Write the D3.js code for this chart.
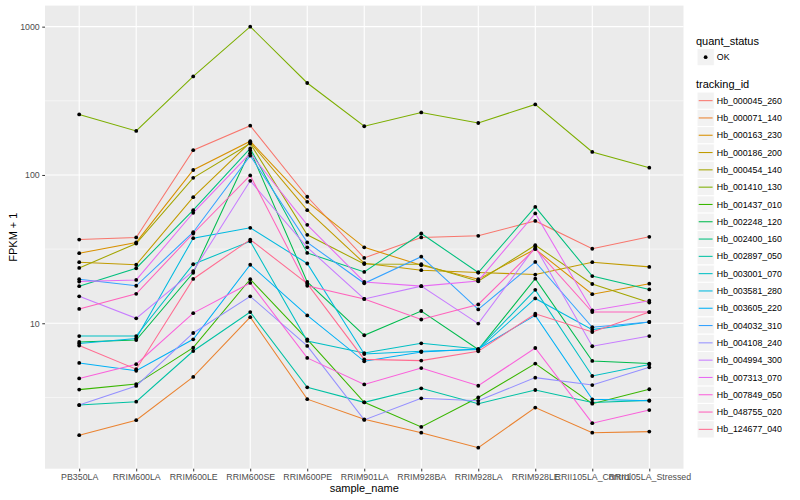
<!DOCTYPE html>
<html>
<head>
<meta charset="utf-8">
<script src="https://cdn.jsdelivr.net/npm/d3@7"></script>
<style>
  html, body { margin: 0; padding: 0; background: #fff; }
  svg { display: block; font-family: "Liberation Sans", Arial, Helvetica, sans-serif; }
</style>
</head>
<body>
<svg id="chart" width="800" height="500"></svg>
<script>
// ---------- data ----------
const samples = ["PB350LA", "RRIM600LA", "RRIM600LE", "RRIM600SE", "RRIM600PE", "RRIM901LA",
  "RRIM928BA", "RRIM928LA", "RRIM928LE", "RRII105LA_Control", "RRII105LA_Stressed"];

const trackingIds = ["Hb_000045_260", "Hb_000071_140", "Hb_000163_230", "Hb_000186_200", "Hb_000454_140",
  "Hb_001410_130", "Hb_001437_010", "Hb_002248_120", "Hb_002400_160", "Hb_002897_050",
  "Hb_003001_070", "Hb_003581_280", "Hb_003605_220", "Hb_004032_310", "Hb_004108_240",
  "Hb_004994_300", "Hb_007313_070", "Hb_007849_050", "Hb_048755_020", "Hb_124677_040"];

const seriesColors = ["#F8766D", "#EA8331", "#D89000", "#C09B00", "#A3A500", "#7CAE00", "#39B600", "#00BB4E",
  "#00BF7D", "#00C1A3", "#00BFC4", "#00BAE0", "#00B0F6", "#35A2FF", "#9590FF", "#C77CFF", "#E76BF3",
  "#FA62DB", "#FF62BC", "#FF6C91"];

// FPKM + 1 per sample (order of `samples`)
const hb_000045_260 = [36.7, 37.9, 147, 215, 71.3, 27.6, 37.9, 38.9, 49.0, 31.8, 38.3];
const hb_000071_140 = [1.76, 2.22, 4.35, 11.0, 3.08, 2.25, 1.83, 1.45, 2.7, 1.83, 1.86];
const hb_000163_230 = [29.7, 35.1, 108, 169, 65.9, 32.5, 24.6, 19.8, 31.6, 15.7, 18.5];
const hb_000186_200 = [25.8, 24.8, 70.8, 166, 57.9, 25.4, 22.8, 22.0, 21.3, 25.8, 24.0];
const hb_000454_140 = [23.6, 34.5, 95.7, 163, 39.5, 25.1, 25.0, 19.2, 33.6, 18.4, 13.8];
const hb_001410_130 = [256, 198, 462, 1000, 417, 213, 264, 224, 299, 143, 112];
const hb_001437_010 = [3.57, 3.89, 6.85, 19.8, 7.8, 2.93, 2.0, 3.16, 5.35, 2.87, 3.59];
const hb_002248_120 = [7.48, 7.7, 21.9, 146, 19.0, 8.3, 12.1, 6.65, 20.0, 5.57, 5.35];
const hb_002400_160 = [17.8, 23.5, 57.9, 151, 29.8, 22.2, 40.3, 22.0, 60.9, 20.8, 16.9];
const hb_002897_050 = [2.81, 2.96, 6.5, 11.9, 3.7, 2.93, 3.64, 2.87, 3.55, 2.92, 3.02];
const hb_003001_070 = [8.2, 8.2, 25.0, 35.7, 7.6, 6.3, 7.33, 6.7, 16.8, 4.41, 5.28];
const hb_003581_280 = [7.3, 7.9, 37.5, 44, 25.3, 6.2, 6.47, 6.65, 14.7, 9.06, 10.2];
const hb_003605_220 = [5.4, 4.78, 7.8, 24.8, 11.3, 5.54, 6.4, 6.7, 11.3, 3.07, 3.0];
const hb_004032_310 = [19.8, 17.9, 41.1, 135, 35.1, 18.6, 28.1, 12.4, 25.9, 9.4, 10.2];
const hb_004108_240 = [2.81, 3.78, 8.6, 15.2, 7.03, 2.23, 3.12, 3.0, 4.3, 3.83, 5.05];
const hb_004994_300 = [15.2, 10.8, 22.5, 91.3, 32.5, 14.6, 17.8, 9.95, 32.8, 7.0, 8.2];
const hb_007313_070 = [19.1, 19.6, 55.6, 140, 46.1, 19.0, 17.8, 19.3, 55.0, 12.2, 14.2];
const hb_007849_050 = [4.25, 5.3, 11.7, 18.7, 5.84, 3.87, 4.99, 3.79, 6.81, 2.12, 2.6];
const hb_048755_020 = [12.5, 15.8, 40.3, 99.3, 17.9, 14.6, 10.6, 13.4, 31.9, 11.9, 11.9];
const hb_124677_040 = [7.07, 4.9, 19.9, 36.7, 18.5, 5.71, 5.6, 6.47, 11.6, 8.73, 11.9];

const yTicks = [10, 100, 1000];
const yMinorTicks = [Math.sqrt(10), Math.sqrt(1000), Math.sqrt(100000)];

// build table
const seriesValues = [hb_000045_260, hb_000071_140, hb_000163_230, hb_000186_200, hb_000454_140,
  hb_001410_130, hb_001437_010, hb_002248_120, hb_002400_160, hb_002897_050,
  hb_003001_070, hb_003581_280, hb_003605_220, hb_004032_310, hb_004108_240,
  hb_004994_300, hb_007313_070, hb_007849_050, hb_048755_020, hb_124677_040];
const series = trackingIds.map((id, i) => ({
  id, color: seriesColors[i],
  values: samples.map((s, j) => ({ sample: s, value: seriesValues[i][j] }))
}));
const allPoints = series.flatMap(s => s.values);

// ---------- layout ----------
const svg = d3.select("#chart");
const panel = { left: 45, right: 683.5, top: 5.6, bottom: 468.7 };

const x = d3.scalePoint().domain(samples)
  .range([panel.left, panel.right]).padding(0.6);

const ext = d3.extent(allPoints, d => Math.log10(d.value));
const pad = (ext[1] - ext[0]) * 0.05;
const y = d3.scaleLog().domain([Math.pow(10, ext[0] - pad), Math.pow(10, ext[1] + pad)])
  .range([panel.bottom, panel.top]);

// panel background
svg.append("rect").attr("x", panel.left).attr("y", panel.top)
  .attr("width", panel.right - panel.left).attr("height", panel.bottom - panel.top)
  .attr("fill", "#EBEBEB");

const grid = svg.append("g");
grid.selectAll(".ymin").data(yMinorTicks.filter(v => y(v) > panel.top && y(v) < panel.bottom))
  .join("line").attr("x1", panel.left).attr("x2", panel.right)
  .attr("y1", d => y(d)).attr("y2", d => y(d))
  .attr("stroke", "#fff").attr("stroke-width", 0.55);
grid.selectAll(".ymaj").data(yTicks).join("line")
  .attr("x1", panel.left).attr("x2", panel.right)
  .attr("y1", d => y(d)).attr("y2", d => y(d))
  .attr("stroke", "#fff").attr("stroke-width", 1.1);
grid.selectAll(".xmaj").data(samples).join("line")
  .attr("x1", d => x(d)).attr("x2", d => x(d))
  .attr("y1", panel.top).attr("y2", panel.bottom)
  .attr("stroke", "#fff").attr("stroke-width", 1.1);

// lines
const line = d3.line().x(d => x(d.sample)).y(d => y(d.value));
svg.append("g").selectAll("path").data(series).join("path")
  .attr("d", d => line(d.values))
  .attr("fill", "none").attr("stroke", d => d.color).attr("stroke-width", 1.05);

// points
svg.append("g").selectAll("circle").data(allPoints).join("circle")
  .attr("cx", d => x(d.sample)).attr("cy", d => y(d.value))
  .attr("r", 1.9).attr("fill", "#000");

// axes
const yAxis = d3.axisLeft(y).tickValues(yTicks).tickFormat(d3.format("d"))
  .tickSize(2.75).tickPadding(2.5);
const gy = svg.append("g").attr("transform", `translate(${panel.left},0)`).call(yAxis);
gy.select(".domain").remove();
gy.selectAll(".tick line").attr("stroke", "#333333").attr("stroke-width", 1);
gy.selectAll(".tick text").attr("fill", "#4D4D4D").style("font-size", "8.8px")
  .style("font-family", "'Liberation Sans', Arial, sans-serif");

const xAxis = d3.axisBottom(x).tickSize(2.75).tickPadding(2.5);
const gx = svg.append("g").attr("transform", `translate(0,${panel.bottom})`).call(xAxis);
gx.select(".domain").remove();
gx.selectAll(".tick line").attr("stroke", "#333333").attr("stroke-width", 1);
gx.selectAll(".tick text").attr("fill", "#4D4D4D").style("font-size", "8.8px")
  .style("font-family", "'Liberation Sans', Arial, sans-serif");

// axis titles
svg.append("text").attr("x", (panel.left + panel.right) / 2).attr("y", 492)
  .attr("text-anchor", "middle").style("font-size", "11px").attr("fill", "#000")
  .text("sample_name");
svg.append("text").attr("transform", `translate(17,${(panel.top + panel.bottom) / 2}) rotate(-90)`)
  .attr("text-anchor", "middle").style("font-size", "11px").attr("fill", "#000")
  .text("FPKM + 1");

// legends
const lg = svg.append("g");
const legX = 697;
const keyW = 17.3;
lg.append("text").attr("x", legX - 1).attr("y", 44.5).style("font-size", "11px").text("quant_status");
lg.append("rect").attr("x", legX).attr("y", 48.5).attr("width", keyW).attr("height", keyW)
  .attr("fill", "#F2F2F2").attr("stroke", "#fff").attr("stroke-width", 1);
lg.append("circle").attr("cx", legX + keyW / 2).attr("cy", 48.5 + keyW / 2).attr("r", 1.9).attr("fill", "#000");
lg.append("text").attr("x", legX + keyW + 2.5).attr("y", 48.5 + keyW / 2 + 3.1)
  .style("font-size", "8.8px").attr("fill", "#000").text("OK");

lg.append("text").attr("x", legX - 1).attr("y", 88).style("font-size", "11px").text("tracking_id");
const keyTop = 92;
const keys = lg.selectAll(".key").data(series).join("g")
  .attr("transform", (d, i) => `translate(${legX},${keyTop + i * keyW})`);
keys.append("rect").attr("width", keyW).attr("height", keyW)
  .attr("fill", "#F2F2F2").attr("stroke", "#fff").attr("stroke-width", 1);
keys.append("line").attr("x1", 1.7).attr("x2", keyW - 1.7)
  .attr("y1", keyW / 2).attr("y2", keyW / 2)
  .attr("stroke", d => d.color).attr("stroke-width", 1.05);
keys.append("text").attr("x", keyW + 2.5).attr("y", keyW / 2 + 3.1)
  .style("font-size", "8.8px").attr("fill", "#000").text(d => d.id);
</script>
</body>
</html>
